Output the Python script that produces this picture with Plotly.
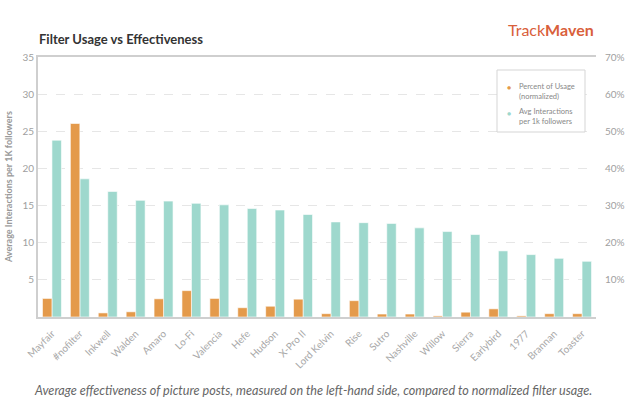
import plotly.graph_objects as go

filters = ["Mayfair", "#nofilter", "Inkwell", "Walden", "Amaro", "Lo-Fi", "Valencia",
           "Hefe", "Hudson", "X-Pro II", "Lord Kelvin", "Rise", "Sutro", "Nashville",
           "Willow", "Sierra", "Earlybird", "1977", "Brannan", "Toaster"]
usage_pct = [5.0, 52.1, 1.1, 1.4, 4.9, 7.1, 5.0, 2.5, 2.9, 4.8,
             0.9, 4.4, 0.8, 0.8, 0.3, 1.3, 2.2, 0.3, 0.9, 0.9]
avg_interactions = [23.8, 18.6, 16.9, 15.7, 15.6, 15.3, 15.1, 14.6, 14.4, 13.8,
                    12.8, 12.7, 12.6, 12.0, 11.5, 11.1, 8.9, 8.4, 7.9, 7.5]
left_ticks = [5, 10, 15, 20, 25, 30, 35]
right_ticks = [10, 20, 30, 40, 50, 60, 70]
right_labels = [f"{v}%" for v in right_ticks]

ORANGE = "#E49A4B"
TEAL = "#9ED8CD"
GRAY = "#999999"
FONT = "Lato"

fig = go.Figure()
fig.add_trace(go.Bar(x=filters, y=usage_pct, name="Percent of Usage (normalized)",
                     marker=dict(color=ORANGE, line=dict(color="white", width=0.6)),
                     offsetgroup="a", yaxis="y2"))
fig.add_trace(go.Bar(x=filters, y=avg_interactions, name="Avg Interactions per 1k followers",
                     marker=dict(color=TEAL, line=dict(color="white", width=0.6)),
                     offsetgroup="b", yaxis="y"))

fig.update_layout(
    width=625, height=416,
    margin=dict(l=38, r=29, t=57, b=99),
    paper_bgcolor="white", plot_bgcolor="white",
    barmode="group", bargap=0.32, bargroupgap=0.0,
    showlegend=False,
    font=dict(family=FONT, color=GRAY, size=10),
    xaxis=dict(tickangle=-45, tickfont=dict(size=10, color="#A8A8A8"), automargin=False,
               showline=True, linecolor="#CFCFCF", linewidth=2, mirror=True,
               ticks="outside", ticklen=5, tickcolor="white", showgrid=False),
    yaxis=dict(range=[0, 35], tickvals=left_ticks, tickfont=dict(size=10, color="#A0A0A0"),
               showgrid=True, gridcolor="#E6E6E6", griddash="dash", gridwidth=1, automargin=False,
               showline=True, linecolor="#CFCFCF", linewidth=2, zeroline=False, ticks=""),
    yaxis2=dict(range=[0, 70], tickvals=right_ticks, ticktext=right_labels, overlaying="y",
                side="right", showgrid=False, zeroline=False, showline=False, automargin=False,
                tickfont=dict(size=10, color="#A0A0A0"), ticks="outside", ticklen=6,
                tickcolor="white"),
)

# Title
fig.add_annotation(text="<b>Filter Usage vs Effectiveness</b>", xref="paper", yref="paper",
                   x=-0.002, y=1.0, yshift=8, xanchor="left", yanchor="bottom", showarrow=False,
                   font=dict(family=FONT, size=13, color="#333333"))
# Logo text
fig.add_annotation(text="Track<b>Maven</b>", xref="paper", yref="paper",
                   x=1.0, y=1.0, yshift=16, xanchor="right", yanchor="bottom", showarrow=False,
                   font=dict(family=FONT, size=16, color="#D9603B"))
# Y axis title
fig.add_annotation(text="<b>Average Interactions per 1K followers</b>", xref="paper", yref="paper",
                   x=-30 / 558, y=0.5, xanchor="center", yanchor="middle", textangle=-90,
                   showarrow=False, font=dict(family=FONT, size=9, color="#999999"))
# Caption
fig.add_annotation(text="<i>Average effectiveness of picture posts, measured on the left-hand side, compared to normalized filter usage.</i>",
                   xref="paper", yref="paper", x=(313 - 38) / 558, y=-73 / 260, xanchor="center",
                   yanchor="middle", showarrow=False, font=dict(family=FONT, size=12.6, color="#666666"))

# Legend box
def px_x(p):
    return (p - 38) / 558

def px_y(p):
    return (317 - p) / 260

fig.add_shape(type="rect", xref="paper", yref="paper", x0=px_x(497), x1=px_x(585),
              y0=px_y(132), y1=px_y(70), line=dict(color="#D5D5D5", width=1), fillcolor="white")
for yy, col, txt in [(91, ORANGE, "Percent of Usage<br>(normalized)"),
                     (117, TEAL, "Avg Interactions<br>per 1k followers")]:
    fig.add_annotation(text="●", xref="paper", yref="paper", x=px_x(509), y=px_y(yy - 4),
                       showarrow=False, font=dict(size=7, color=col), xanchor="center", yanchor="middle")
    fig.add_annotation(text=txt, xref="paper", yref="paper", x=px_x(517), y=px_y(yy),
                       showarrow=False, align="left", xanchor="left", yanchor="middle",
                       font=dict(family=FONT, size=7.5, color="#888888"))

fig.write_html("out.html")
